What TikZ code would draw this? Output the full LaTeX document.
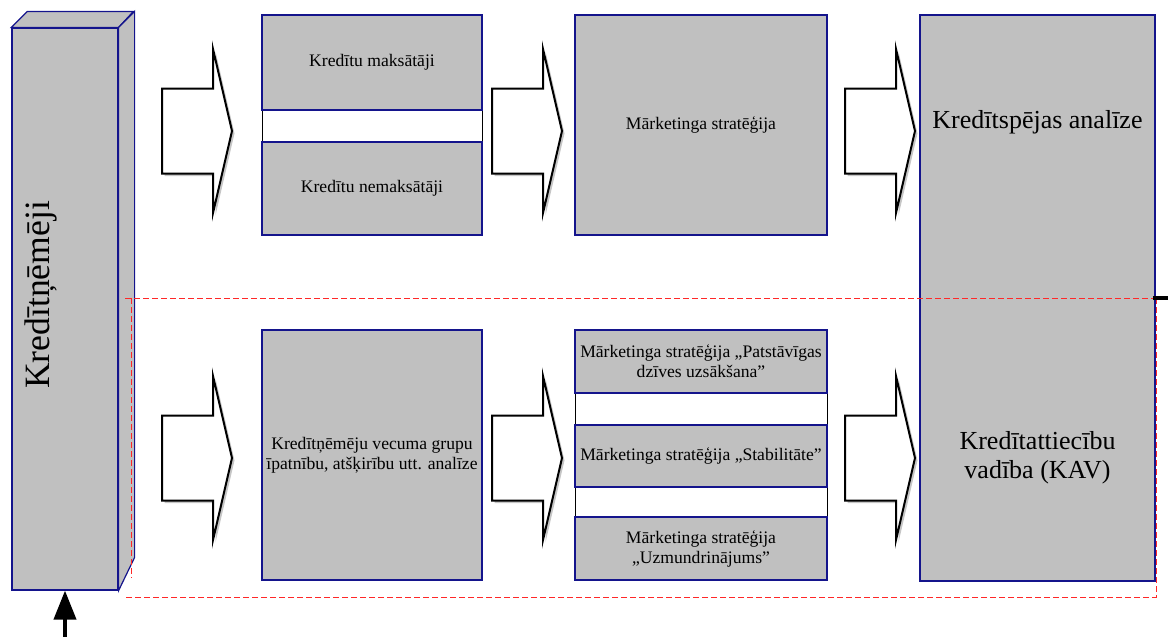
\documentclass[tikz,border=0pt]{standalone}
\usepackage{fontspec}
\setmainfont{Liberation Serif}
\usetikzlibrary{arrows.meta,shadows}

\definecolor{boxgrey}{RGB}{192,192,192}
\definecolor{boxblue}{RGB}{20,20,140}
\definecolor{framered}{RGB}{255,40,40}

\tikzset{
  box/.style={draw=boxblue, line width=1.5pt, fill=boxgrey, align=center, inner sep=2pt,
    font=\fontsize{17.6}{20}\selectfont},
  holder/.style={draw=black, line width=1pt, fill=white, inner sep=0pt},
  bigtext/.style={align=center, font=\fontsize{26}{29}\selectfont},
  redline/.style={draw=framered, line width=1pt, dash pattern=on 6pt off 3pt},
  blockarrow/.pic={
    \draw[line width=2pt, fill=white,
          drop shadow={shadow xshift=2.5pt, shadow yshift=-2.5pt, opacity=0.45}]
      (0,-42.5) -- (51,-42.5) -- (51,-82) -- (70,0) -- (51,82) -- (51,42.5) -- (0,42.5) -- cycle;
  }
}

\begin{document}
\begin{tikzpicture}[x=1pt, y=-1pt]
    \useasboundingbox (0,0) rectangle (1168,637);

    % kreditnemeju stabins (3D)
    \node[draw=boxblue, line width=1.2pt, fill=boxgrey, minimum width=106pt, minimum height=562pt,
          inner sep=0pt] (bar) at (65,309) {};
    \draw[draw=boxblue, line width=1.2pt, fill=boxgrey]
        (bar.north west) -- ++(16,-16) -- ++(106,0) -- (bar.north east) -- cycle;
    \draw[draw=boxblue, line width=1.2pt, fill=boxgrey]
        (bar.north east) -- ++(16,-16) -- ++(0,546) -- (bar.south east) -- cycle;
    \node[rotate=90, font=\fontsize{35.6}{40}\selectfont] (barlabel) at (41,295) {Kredītņēmēji};

    \coordinate (src) at (65,637);
    \draw[line width=4pt, -{Triangle[length=29pt, width=22pt]}] (src) -- (bar.south);

    % augseja rinda
    \node[holder, minimum width=220pt, minimum height=220pt] (grp1) at (372,125) {};
    \node[box, minimum width=220pt, minimum height=95pt] (maks) at (372,62.5) {Kredītu maksātāji};
    \node[box, minimum width=220pt, minimum height=93pt] (nemaks) at (372,188.5) {Kredītu nemaksātāji};
    \node[box, minimum width=252pt, minimum height=220pt] (strat) at (701,125) {Mārketinga stratēģija};

    % labaja kolonna
    \node[box, minimum width=235pt, minimum height=566pt] (kav) at (1037.5,298) {};
    \node[bigtext] (analize) at (1037.5,122) {Kredītspējas analīze};
    \node[bigtext] (vadiba) at (1037.5,458) {Kredītattiecību\\vadība (KAV)};

    % apakseja rinda
    \node[box, minimum width=220pt, minimum height=250pt] (vecums) at (372,455)
        {Kredītņēmēju vecuma grupu\\īpatnību, atšķirību utt. analīze};
    \node[holder, minimum width=252pt, minimum height=250pt] (grp2) at (701,455) {};
    \node[box, minimum width=252pt, minimum height=63pt] (patst) at (701,361.5)
        {Mārketinga stratēģija „Patstāvīgas\\dzīves uzsākšana”};
    \node[box, minimum width=252pt, minimum height=62pt] (stab) at (701,456)
        {Mārketinga stratēģija „Stabilitāte”};
    \node[box, minimum width=252pt, minimum height=63pt] (uzm) at (701,548.5)
        {Mārketinga stratēģija\\„Uzmundrinājums”};

    % bultas
    \pic at (162,131) {blockarrow};
    \pic at (492,131) {blockarrow};
    \pic at (845,131) {blockarrow};
    \pic at (162,458) {blockarrow};
    \pic at (492,458) {blockarrow};
    \pic at (845,458) {blockarrow};

    % sarkanais ramis
    \draw[redline] (125,298) -- (1156,298);
    \draw[redline] (131,298) -- (131,578);
    \draw[redline] (1156,298) -- (1156,597) -- (124,597);

    \coordinate (tick) at (1153,298);
    \draw[line width=4pt] (tick) -- ++(15,0);
\end{tikzpicture}
\end{document}
